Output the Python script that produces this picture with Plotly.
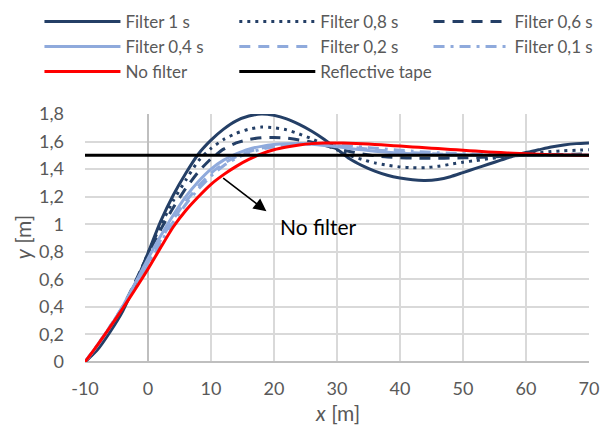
import plotly.graph_objects as go

x_vals = [-10, -8, -6, -4, -2, 0, 2, 4, 6, 8, 10, 12, 14, 16, 18, 20, 22, 24, 26, 28, 30,
          32, 34, 36, 38, 40, 42, 44, 46, 48, 50, 52, 54, 56, 58, 60, 62, 64, 66, 68, 70]

filter_1s = [0, 0.09, 0.22, 0.37, 0.57, 0.79, 1.02, 1.21, 1.37, 1.51, 1.61, 1.69, 1.75, 1.785, 1.80,
             1.79, 1.765, 1.725, 1.675, 1.615, 1.545, 1.475, 1.425, 1.385, 1.355, 1.335, 1.322, 1.318,
             1.325, 1.345, 1.375, 1.405, 1.435, 1.465, 1.495, 1.52, 1.54, 1.56, 1.575, 1.585, 1.59]
filter_08s = [0, 0.10, 0.23, 0.385, 0.575, 0.79, 0.99, 1.17, 1.32, 1.46, 1.55, 1.615, 1.66, 1.69, 1.705,
              1.70, 1.685, 1.655, 1.62, 1.58, 1.54, 1.50, 1.47, 1.445, 1.428, 1.416, 1.41, 1.41, 1.42,
              1.435, 1.45, 1.462, 1.475, 1.487, 1.498, 1.508, 1.518, 1.527, 1.533, 1.537, 1.54]
filter_06s = [0, 0.11, 0.245, 0.40, 0.585, 0.78, 0.96, 1.12, 1.26, 1.38, 1.475, 1.545, 1.59, 1.615, 1.628,
              1.63, 1.625, 1.612, 1.595, 1.572, 1.55, 1.528, 1.51, 1.497, 1.488, 1.483, 1.48, 1.479, 1.479,
              1.48, 1.482, 1.485, 1.488, 1.492, 1.496, 1.50, 1.503, 1.505, 1.507, 1.508, 1.51]
filter_04s = [0, 0.12, 0.255, 0.405, 0.575, 0.75, 0.915, 1.065, 1.20, 1.31, 1.40, 1.465, 1.51, 1.545, 1.565,
              1.578, 1.584, 1.585, 1.58, 1.572, 1.562, 1.55, 1.54, 1.53, 1.522, 1.516, 1.511, 1.508, 1.505,
              1.503, 1.502, 1.501, 1.50, 1.50, 1.50, 1.50, 1.50, 1.50, 1.50, 1.50, 1.50]
filter_02s = [0, 0.125, 0.26, 0.405, 0.56, 0.72, 0.885, 1.035, 1.165, 1.275, 1.37, 1.44, 1.49, 1.527, 1.552,
              1.568, 1.578, 1.582, 1.582, 1.578, 1.57, 1.56, 1.55, 1.54, 1.532, 1.525, 1.519, 1.514, 1.51,
              1.507, 1.505, 1.504, 1.503, 1.502, 1.501, 1.50, 1.50, 1.50, 1.50, 1.50, 1.50]
filter_01s = [0, 0.125, 0.26, 0.40, 0.55, 0.705, 0.865, 1.015, 1.145, 1.255, 1.35, 1.425, 1.478, 1.518, 1.545,
              1.563, 1.575, 1.582, 1.584, 1.582, 1.576, 1.568, 1.56, 1.552, 1.544, 1.537, 1.53, 1.524, 1.519,
              1.515, 1.512, 1.509, 1.507, 1.505, 1.504, 1.503, 1.502, 1.501, 1.50, 1.50, 1.50]
no_filter = [0, 0.125, 0.255, 0.39, 0.53, 0.675, 0.83, 0.98, 1.10, 1.20, 1.29, 1.36, 1.42, 1.47, 1.51,
             1.54, 1.56, 1.575, 1.585, 1.59, 1.59, 1.588, 1.584, 1.579, 1.573, 1.567, 1.561, 1.555, 1.549,
             1.543, 1.537, 1.531, 1.525, 1.52, 1.515, 1.511, 1.508, 1.505, 1.503, 1.501, 1.50]
tape_x = [-10, 70]
tape_y = [1.5, 1.5]

x_tickvals = [-10, 0, 10, 20, 30, 40, 50, 60, 70]
x_ticktext = ["-10", "0", "10", "20", "30", "40", "50", "60", "70"]

DARK = "#243F66"
LIGHT = "#8FAADC"
FONT = "Lato, 'Open Sans', sans-serif"
GRAY = "#595959"

# (name, values, colour, dash, legend column)
series = [
    ("Filter 1 s", filter_1s, DARK, "solid", "legend"),
    ("Filter 0,8 s", filter_08s, DARK, "3px,5px", "legend2"),
    ("Filter 0,6 s", filter_06s, DARK, "11px,8px", "legend3"),
    ("Filter 0,4 s", filter_04s, LIGHT, "solid", "legend"),
    ("Filter 0,2 s", filter_02s, LIGHT, "11px,8px", "legend2"),
    ("Filter 0,1 s", filter_01s, LIGHT, "11px,6px,3px,6px", "legend3"),
    ("No filter", no_filter, "#FF0000", "solid", "legend"),
]

fig = go.Figure()
for name, ys, color, dash, lg in series:
    fig.add_trace(go.Scatter(x=x_vals, y=ys, mode="lines", name=name, legend=lg,
                             line=dict(color=color, width=3, dash=dash, shape="spline", smoothing=0.6)))
fig.add_trace(go.Scatter(x=tape_x, y=tape_y, mode="lines", name="Reflective tape", legend="legend2",
                         line=dict(color="#000000", width=3)))

fig.add_annotation(x=18.8, y=1.094, ax=11.7, ay=1.343, xref="x", yref="y", axref="x", ayref="y",
                   text="", showarrow=True, arrowhead=2, arrowsize=1.6, arrowwidth=1.6, arrowcolor="black")
fig.add_annotation(x=20.6, y=0.98, xref="x", yref="y", text="No filter", showarrow=False,
                   xanchor="left", yanchor="middle", font=dict(family=FONT, size=21, color="black"))
# axis titles
fig.add_annotation(x=0.5, y=-0.205, xref="paper", yref="paper", text="<i>x</i> [m]", showarrow=False,
                   xanchor="center", yanchor="middle", font=dict(family=FONT, size=21, color=GRAY))
fig.add_annotation(x=-0.125, y=0.503, xref="paper", yref="paper", text="<i>y</i> [m]", showarrow=False,
                   textangle=-90, xanchor="center", yanchor="middle",
                   font=dict(family=FONT, size=21, color=GRAY))

def legend_at(xpos):
    return dict(orientation="v", xref="container", yref="container", x=xpos, y=0.991,
                xanchor="left", yanchor="top", itemwidth=76, traceorder="normal",
                font=dict(family=FONT, size=17, color=GRAY), bgcolor="rgba(0,0,0,0)",
                tracegroupgap=0)

fig.update_layout(
    width=607, height=429,
    margin=dict(l=85, r=18, t=114, b=67, autoexpand=False),
    paper_bgcolor="white", plot_bgcolor="white",
    separators=", ",
    font=dict(family=FONT, size=18, color=GRAY),
    showlegend=True,
    legend=legend_at(0.065),
    legend2=legend_at(0.386),
    legend3=legend_at(0.706),
    xaxis=dict(range=[-10, 70], tickvals=x_tickvals, ticktext=x_ticktext, showgrid=True,
               gridcolor="#D9D9D9", gridwidth=2, zeroline=True, zerolinecolor="#BFBFBF", zerolinewidth=2,
               showline=False, ticks="", ticklabelstandoff=14,
               tickfont=dict(family=FONT, size=18, color=GRAY)),
    yaxis=dict(range=[0, 1.8], dtick=0.2, showgrid=True, gridcolor="#D9D9D9", gridwidth=2,
               zeroline=True, zerolinecolor="#BFBFBF", zerolinewidth=2, showline=False, ticks="",
               ticklabelstandoff=20, tickfont=dict(family=FONT, size=18, color=GRAY)),
)

fig.write_html("out.html")
